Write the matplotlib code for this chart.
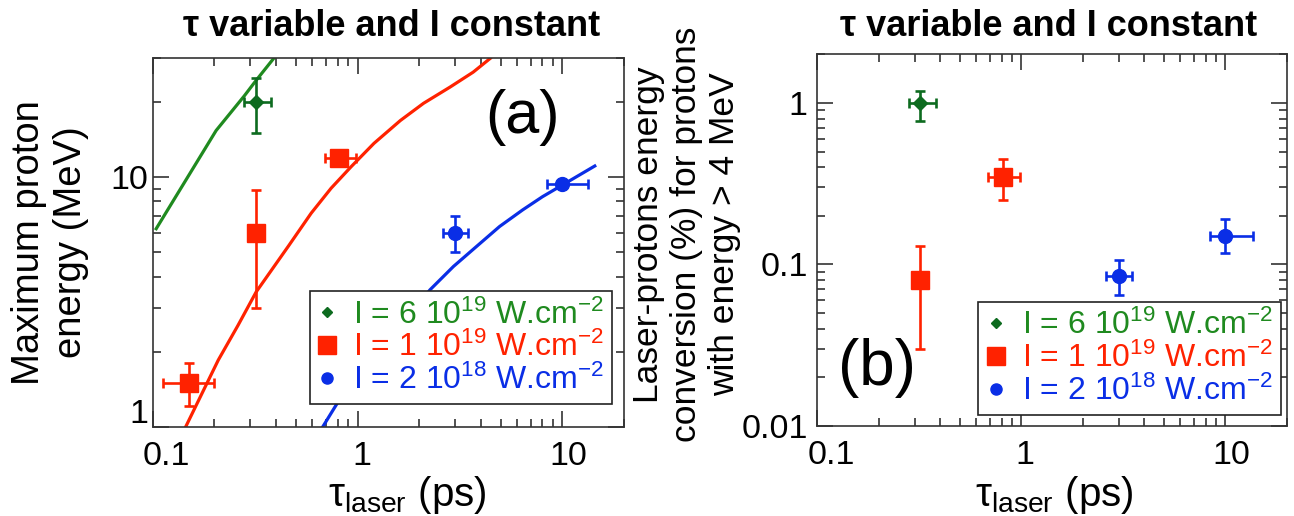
import numpy as np
import matplotlib
matplotlib.use('Agg')
from matplotlib import pyplot as plt
from matplotlib.lines import Line2D
from matplotlib.ticker import LogLocator, NullFormatter
import matplotlib.transforms as mtransforms

plt.rcParams['font.family'] = ['Liberation Sans', 'DejaVu Sans']
plt.rcParams['mathtext.fontset'] = 'custom'
plt.rcParams['mathtext.rm'] = 'Liberation Sans'
plt.rcParams['mathtext.it'] = 'Liberation Sans:italic'
plt.rcParams['mathtext.bf'] = 'Liberation Sans:bold'

GREEN = '#1f8a1f'
GREEN_DARK = '#0d6b1f'
RED = '#ff2200'
BLUE = '#0a2ee6'

labels = [r'I = 6 10$^{19}$ W.cm$^{-2}$',
          r'I = 1 10$^{19}$ W.cm$^{-2}$',
          r'I = 2 10$^{18}$ W.cm$^{-2}$']

# --- (a) maximum proton energy vs pulse duration ---
# I = 6e19 W/cm2
g_tau, g_tau_lo, g_tau_hi = [0.32], [0.28], [0.38]
g_emax, g_emax_lo, g_emax_hi = [20.0], [15.0], [25.0]
# I = 1e19 W/cm2
r_tau, r_tau_lo, r_tau_hi = [0.15, 0.32, 0.81], [0.112, 0.32, 0.69], [0.199, 0.32, 0.98]
r_emax, r_emax_lo, r_emax_hi = [1.5, 6.0, 12.0], [1.21, 3.0, 12.0], [1.8, 8.9, 12.0]
# I = 2e18 W/cm2
b_tau, b_tau_lo, b_tau_hi = [3.0, 10.0], [2.6, 8.4], [3.45, 13.4]
b_emax, b_emax_lo, b_emax_hi = [6.0, 9.4], [5.0, 9.4], [7.0, 9.4]

# model curves
g_model_tau = [0.104, 0.204, 0.28, 0.319, 0.39]
g_model_e = [6.22, 15.4, 21.2, 24.4, 30.0]
r_model_tau = [0.145, 0.209, 0.261, 0.32, 0.46, 0.594, 0.743, 0.928, 1.203,
               1.62, 2.1, 2.83, 3.67, 4.45]
r_model_e = [1.0, 1.85, 2.55, 3.47, 5.3, 7.18, 9.04, 11.0, 13.68,
             16.9, 19.8, 23.0, 26.4, 30.0]
b_model_tau = [0.677, 0.80, 2.26, 2.94, 3.81, 4.94, 6.4, 8.0, 10.0, 14.4]
b_model_e = [1.0, 1.25, 3.54, 4.39, 5.28, 6.35, 7.4, 8.36, 9.31, 11.1]

# --- (b) conversion efficiency for protons > 4 MeV ---
gb_tau, gb_tau_lo, gb_tau_hi = [0.32], [0.28], [0.38]
gb_conv, gb_conv_lo, gb_conv_hi = [1.0], [0.77], [1.19]
rb_tau, rb_tau_lo, rb_tau_hi = [0.32, 0.81], [0.32, 0.69], [0.32, 0.98]
rb_conv, rb_conv_lo, rb_conv_hi = [0.08, 0.35], [0.03, 0.25], [0.13, 0.45]
bb_tau, bb_tau_lo, bb_tau_hi = [3.0, 10.0], [2.6, 8.45], [3.5, 13.7]
bb_conv, bb_conv_lo, bb_conv_hi = [0.085, 0.15], [0.065, 0.117], [0.106, 0.192]


def points(ax, x, xlo, xhi, y, ylo, yhi, color, marker, ms):
    x, xlo, xhi = np.array(x), np.array(xlo), np.array(xhi)
    y, ylo, yhi = np.array(y), np.array(ylo), np.array(yhi)
    ax.errorbar(x, y, xerr=[x - xlo, xhi - x], yerr=[y - ylo, yhi - y],
                fmt=marker, color=color, ms=ms, elinewidth=1.9,
                capsize=3.5, capthick=1.9, zorder=3)


def style_axes(ax, yticks, ylabels, ypad):
    ax.set_xscale('log')
    ax.set_yscale('log')
    ax.set_xlim(0.1, 20)
    ax.set_xticks([0.1, 1, 10])
    ax.set_xticklabels(['0.1', '1', '10'])
    ax.set_yticks(yticks)
    ax.set_yticklabels(ylabels)
    ax.xaxis.set_minor_locator(LogLocator(base=10, subs=np.arange(2, 10)))
    ax.yaxis.set_minor_locator(LogLocator(base=10, subs=np.arange(2, 10)))
    ax.xaxis.set_minor_formatter(NullFormatter())
    ax.yaxis.set_minor_formatter(NullFormatter())
    ax.tick_params(which='both', direction='in', top=True, right=True,
                   width=1.2, color='#333333', labelsize=24.5)
    ax.tick_params(which='major', length=11.5)
    ax.tick_params(which='minor', length=6)
    ax.tick_params(axis='x', pad=10)
    ax.tick_params(axis='y', pad=ypad)
    for sp in ax.spines.values():
        sp.set_linewidth(1.2)
        sp.set_color('#333333')


def shift(fig, lab, dx=0, dy=0):
    off = mtransforms.ScaledTranslation(dx / 100, dy / 100, fig.dpi_scale_trans)
    lab.set_transform(lab.get_transform() + off)


def legend(ax, x, y):
    handles = [Line2D([], [], ls='none', marker='D', ms=5.6, color=GREEN_DARK),
               Line2D([], [], ls='none', marker='s', ms=13, color=RED),
               Line2D([], [], ls='none', marker='o', ms=8, color=BLUE)]
    leg = ax.legend(handles, labels, loc='lower right', bbox_to_anchor=(x, y),
                    fontsize=23, labelcolor=[GREEN, RED, BLUE], frameon=True,
                    fancybox=False, framealpha=1, edgecolor='#222222',
                    borderaxespad=0, borderpad=0.25, handlelength=0.6,
                    handletextpad=0.5, labelspacing=0.05)
    leg.get_frame().set_linewidth(1.2)


fig = plt.figure(figsize=(12.94, 5.16), dpi=100)
ax_a = fig.add_axes([152.7 / 1294, 1 - 426.7 / 516, 471.3 / 1294, 368.4 / 516])
ax_b = fig.add_axes([817.3 / 1294, 1 - 426 / 516, 469.4 / 1294, 371.7 / 516])

# panel (a)
ax_a.plot(g_model_tau, g_model_e, color=GREEN, lw=2.3, zorder=2)
ax_a.plot(r_model_tau, r_model_e, color=RED, lw=2.3, zorder=2)
ax_a.plot(b_model_tau, b_model_e, color=BLUE, lw=2.3, zorder=2)
points(ax_a, g_tau, g_tau_lo, g_tau_hi, g_emax, g_emax_lo, g_emax_hi, GREEN_DARK, 'D', 7)
points(ax_a, r_tau, r_tau_lo, r_tau_hi, r_emax, r_emax_lo, r_emax_hi, RED, 's', 13.5)
points(ax_a, b_tau, b_tau_lo, b_tau_hi, b_emax, b_emax_lo, b_emax_hi, BLUE, 'o', 10)
style_axes(ax_a, [1, 10], ['1', '10'], 3.5)
ax_a.set_ylim(1, 30)
ax_a.set_ylabel('Maximum proton\nenergy (MeV)', fontsize=27.5)
ax_a.yaxis.set_label_coords(-0.218, 0.5)
ax_a.yaxis.label.set_va('center')
ax_a.set_xlabel('τ$_{\\mathrm{laser}}$ (ps)', fontsize=29)
ax_a.xaxis.set_label_coords(0.5406, -0.186)
ax_a.xaxis.label.set_va('center')
ax_a.text(0.785, 0.8385, '(a)', transform=ax_a.transAxes, fontsize=44,
          ha='center', va='center')
legend(ax_a, 0.974, 0.0608)

# panel (b)
points(ax_b, gb_tau, gb_tau_lo, gb_tau_hi, gb_conv, gb_conv_lo, gb_conv_hi, GREEN_DARK, 'D', 7)
points(ax_b, rb_tau, rb_tau_lo, rb_tau_hi, rb_conv, rb_conv_lo, rb_conv_hi, RED, 's', 13.5)
points(ax_b, bb_tau, bb_tau_lo, bb_tau_hi, bb_conv, bb_conv_lo, bb_conv_hi, BLUE, 'o', 10)
style_axes(ax_b, [0.01, 0.1, 1], ['0.01', '0.1', '1'], 7)
ax_b.set_ylim(0.01, 2)
ax_b.set_ylabel('Laser-protons energy\nconversion (%) for protons\nwith energy > 4 MeV',
                fontsize=25.5)
ax_b.yaxis.set_label_coords(-0.279, 0.515)
ax_b.yaxis.label.set_va('center')
ax_b.set_xlabel('τ$_{\\mathrm{laser}}$ (ps)', fontsize=29)
ax_b.xaxis.set_label_coords(0.504, -0.186)
ax_b.xaxis.label.set_va('center')
ax_b.text(0.127, 0.157, '(b)', transform=ax_b.transAxes, fontsize=46,
          ha='center', va='center')
legend(ax_b, 0.987, 0.0296)

# nudge tick labels
for ax in (ax_a, ax_b):
    xl = ax.get_xticklabels()
    shift(fig, xl[0], dx=14)
    shift(fig, xl[1], dx=4)
    shift(fig, xl[2], dx=6)
shift(fig, ax_a.get_yticklabels()[0], dy=16)

fig.text(391.8 / 1294, 1 - 27 / 516, 'τ variable and I constant', fontsize=26,
         fontweight='bold', ha='center', va='center')
fig.text(1048.7 / 1294, 1 - 27 / 516, 'τ variable and I constant', fontsize=26,
         fontweight='bold', ha='center', va='center')

fig.savefig('out.png', dpi=100)
